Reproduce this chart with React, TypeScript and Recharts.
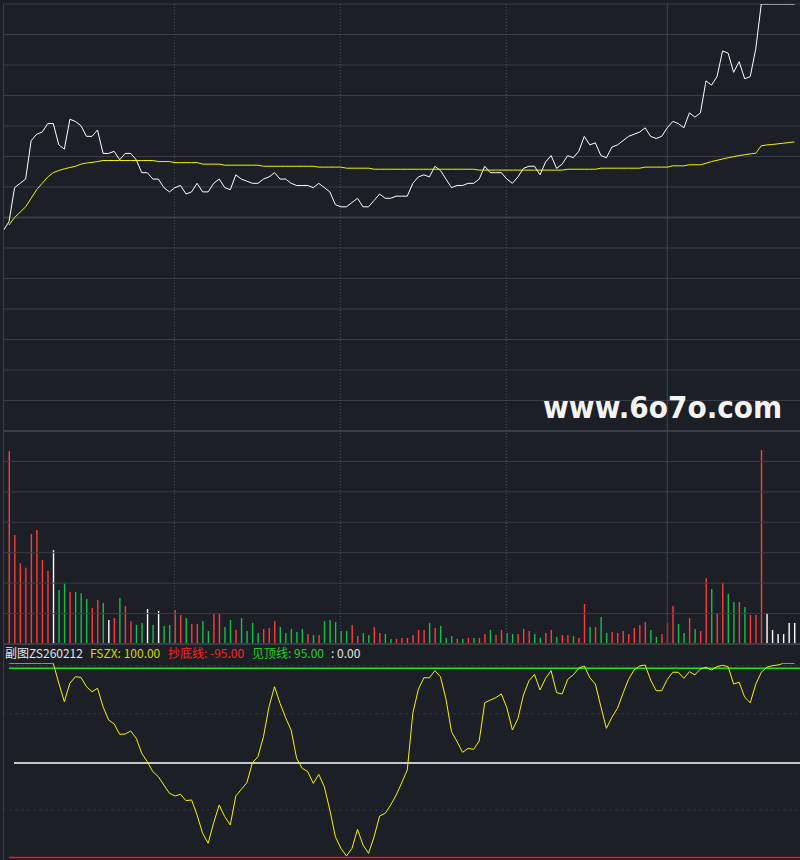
import { LineChart, Line, XAxis, YAxis, ReferenceLine, ComposedChart, Bar } from "recharts";

// intraday minute data, index 0 = 09:30 (chart is cut after the noon break)
const prevClose = 10.0;
const limitUp = 11.0;
const limitDown = 9.0;

const price = [
  9.94, 9.98, 10.14, 10.16, 10.18, 10.36, 10.39, 10.40, 10.44, 10.44, 10.34, 10.32,
  10.46, 10.45, 10.43, 10.38, 10.38, 10.41, 10.30, 10.30, 10.31, 10.27, 10.30, 10.30,
  10.27, 10.21, 10.21, 10.18, 10.18, 10.14, 10.12, 10.14, 10.15, 10.11, 10.12, 10.16,
  10.12, 10.12, 10.16, 10.18, 10.14, 10.13, 10.20, 10.18, 10.17, 10.16, 10.16, 10.18,
  10.19, 10.21, 10.18, 10.18, 10.16, 10.15, 10.15, 10.15, 10.14, 10.16, 10.14, 10.12,
  10.06, 10.05, 10.05, 10.07, 10.09, 10.05, 10.05, 10.08, 10.11, 10.09, 10.09, 10.10,
  10.10, 10.10, 10.16, 10.19, 10.20, 10.19, 10.24, 10.22, 10.18, 10.14, 10.15, 10.15,
  10.16, 10.16, 10.18, 10.24, 10.21, 10.21, 10.21, 10.18, 10.16, 10.19, 10.23, 10.24,
  10.24, 10.20, 10.26, 10.29, 10.23, 10.25, 10.29, 10.28, 10.31, 10.38, 10.34, 10.35,
  10.29, 10.28, 10.33, 10.34, 10.36, 10.38, 10.39, 10.40, 10.42, 10.38, 10.37, 10.38,
  10.42, 10.45, 10.44, 10.42, 10.49, 10.47, 10.49, 10.64, 10.62, 10.66, 10.78, 10.77,
  10.68, 10.73, 10.65, 10.66, 10.79, 11.00, 11.00, 11.00, 11.00, 11.00, 11.00, 11.00,
];

const avgPrice = [
  null, 9.965, 10.0, 10.025, 10.05, 10.09, 10.13, 10.16, 10.19, 10.21, 10.22, 10.228,
  10.234, 10.24, 10.25, 10.255, 10.258, 10.262, 10.267, 10.267, 10.267, 10.267, 10.267, 10.267,
  10.267, 10.267, 10.267, 10.267, 10.262, 10.262, 10.262, 10.257, 10.257, 10.257, 10.257, 10.257,
  10.25, 10.25, 10.25, 10.25, 10.245, 10.245, 10.245, 10.245, 10.245, 10.245, 10.245, 10.24,
  10.24, 10.24, 10.24, 10.24, 10.24, 10.24, 10.24, 10.24, 10.24, 10.236, 10.236, 10.236,
  10.236, 10.236, 10.231, 10.231, 10.231, 10.231, 10.231, 10.226, 10.226, 10.226, 10.226, 10.226,
  10.226, 10.226, 10.226, 10.226, 10.226, 10.226, 10.226, 10.226, 10.226, 10.226, 10.226, 10.226,
  10.226, 10.226, 10.222, 10.222, 10.222, 10.222, 10.222, 10.222, 10.222, 10.222, 10.222, 10.222,
  10.222, 10.222, 10.222, 10.222, 10.222, 10.222, 10.226, 10.226, 10.226, 10.226, 10.226, 10.226,
  10.231, 10.231, 10.231, 10.231, 10.231, 10.231, 10.231, 10.231, 10.236, 10.236, 10.236, 10.236,
  10.236, 10.242, 10.242, 10.242, 10.247, 10.247, 10.247, 10.254, 10.262, 10.268, 10.274, 10.28,
  10.285, 10.29, 10.294, 10.298, 10.301, 10.336, 10.34, 10.342, 10.345, 10.348, 10.351, 10.354,
];

const volume = [
  0, 9510, 5370, 3980, 3760, 5420, 5620, 4140, 3600, 4630, 2660, 2990,
  2560, 2560, 2500, 2220, 1770, 2170, 2020, 1180, 1280, 2270, 1870, 1130,
  940, 1040, 1730, 940, 1630, 890, 940, 1680, 1430, 1280, 990, 990,
  1130, 640, 1480, 1480, 840, 1180, 690, 1280, 640, 1040, 540, 740,
  790, 1130, 840, 540, 740, 590, 740, 490, 440, 440, 1130, 1180,
  1080, 640, 640, 940, 390, 540, 440, 840, 540, 490, 250, 250,
  300, 300, 440, 690, 690, 1040, 790, 890, 300, 390, 250, 250,
  300, 300, 300, 490, 690, 440, 690, 540, 490, 490, 740, 640,
  490, 300, 540, 690, 350, 440, 440, 390, 300, 1970, 840, 840,
  1330, 540, 590, 540, 640, 490, 790, 940, 1080, 690, 350, 490,
  1040, 1870, 990, 540, 1280, 740, 640, 3250, 2710, 1480, 3010, 2470,
  2070, 2070, 1820, 1430, 1430, 9560, 1530, 690, 490, 490, 1040, 1040,
];

// r = up, g = down, w = unchanged
const volDir = (
  "wrrrrrrrrwgg" + "rgggrrgwrgrr" + "ggwgwggrrgrr" + "ggrrggrggggr" +
  "rrgggggrgrgg" + "gggrrggrrggr" + "rrrrrgrgggrg" + "rgrrgrrggrrr" +
  "ggrrgrrgrrgr" + "ggrrrrrrrggr" + "rrggrgrrgrrg" + "grgrrrwwwwww"
).split("");

const fszx = [
  null, 100, 100, 100, 100, 100, 100, 100, 100, 100, 80.0, 61.4,
  80.0, 86.5, 85.9, 76.5, 71.5, 74.9, 56.4, 43.1, 39.1, 28.7, 29.0, 32.0,
  24.7, 9.6, 1.2, -8.8, -13.9, -22.2, -30.5, -33.2, -31.5, -37.9, -37.2, -52.3,
  -70.7, -80.7, -60.0, -42.3, -54.0, -62.3, -33.2, -26.5, -19.9, 0.2, 6.2, 26.3,
  56.4, 76.5, 59.8, 45.4, 33.0, 4.6, -5.4, -8.8, -20.5, -11.5, -23.9, -47.3,
  -74.1, -85.8, -93.5, -85.8, -66.7, -82.4, -90.8, -74.1, -53.3, -50.6, -42.3, -32.2,
  -19.9, -7.1, 49.8, 73.9, 85.5, 85.5, 92.6, 86.5, 63.8, 31.3, 21.3, 10.6,
  14.6, 13.6, 22.0, 60.4, 63.1, 65.5, 69.2, 55.4, 33.0, 44.4, 68.2, 82.5,
  88.9, 73.2, 84.9, 92.6, 70.5, 69.2, 83.9, 88.3, 95.0, 97.3, 85.5, 79.2,
  56.4, 34.7, 45.8, 54.8, 69.9, 83.9, 93.3, 97.3, 98.3, 83.2, 72.5, 72.5,
  83.9, 91.0, 91.0, 84.9, 91.6, 88.3, 94.3, 96.0, 93.3, 96.6, 98.0, 96.6,
  79.2, 80.9, 65.9, 60.4, 78.9, 91.0, 96.0, 97.6, 98.3, 100, 100, 100,
];

const bottomLine = -95;
const topLine = 95;
const halfHourMarks = [30.9, 60.9, 90.9];
const noonMark = 120;

const BG = "#1c1f26";
const GRID = "#383d48";
const DIR_COLOR: Record<string, string> = { r: "#ff3b3b", g: "#11c04a", w: "#ffffff" };

const priceGrid = Array.from({ length: 15 }, (_, k) => limitDown + (k * (limitUp - limitDown)) / 14);
const volGrid = [1500, 3000, 4500, 6000, 7500, 9000];
const indGrid = [97.3, 49.2, -47.3];

const priceRows = price.map((p, i) => ({ i, price: p, avg: avgPrice[i] }));
const volRows = volume.map((v, i) => ({ i, vol: v > 0 ? v : null, dir: volDir[i] }));
const indRows = fszx.map((v, i) => ({ i, fszx: v }));

const layer: React.CSSProperties = { position: "absolute", left: 0, top: 0 };

function VolBar(props: any) {
  const { x, y, width, height, payload } = props;
  if (!height || height <= 0) return null;
  const cx = x + width / 2;
  return <rect x={cx - 0.7} y={y} width={1.4} height={height} fill={DIR_COLOR[payload.dir]} />;
}

function dividers(keyPrefix: string) {
  return [
    ...halfHourMarks.map((m) => (
      <ReferenceLine key={keyPrefix + m} x={m} stroke="#4a505d" strokeDasharray="1 2" />
    )),
    <ReferenceLine key={keyPrefix + "noon"} x={noonMark} stroke="#3f4450" />,
  ];
}

export default function App() {
  return (
    <div style={{ position: "absolute", left: 0, top: 0, width: 800, height: 860, overflow: "hidden", background: BG }}>
      {/* price panel */}
      <div style={layer}>
        <LineChart width={800} height={440} data={priceRows} margin={{ top: 4, right: 0, bottom: 9, left: 3.5 }}>
          <XAxis type="number" dataKey="i" domain={[0, 144]} hide allowDataOverflow />
          <YAxis type="number" domain={[limitDown, limitUp]} hide allowDataOverflow />
          {priceGrid.map((v, k) => (
            <ReferenceLine key={k} y={v} stroke={GRID} strokeWidth={k === 0 || k === 7 ? 2 : 1} />
          ))}
          {dividers("p")}
          <Line type="linear" dataKey="price" stroke="#ffffff" strokeWidth={1} dot={false} isAnimationActive={false} />
          <Line type="linear" dataKey="avg" stroke="#f5f500" strokeWidth={1} dot={false} isAnimationActive={false} />
        </LineChart>
      </div>

      {/* volume panel */}
      <div style={layer}>
        <ComposedChart width={800} height={650} data={volRows} margin={{ top: 431, right: 0, bottom: 6, left: 3.5 }}>
          <XAxis type="number" dataKey="i" domain={[0, 144]} hide allowDataOverflow />
          <YAxis type="number" domain={[0, 10500]} hide allowDataOverflow />
          {volGrid.map((v) => (
            <ReferenceLine key={v} y={v} stroke={GRID} />
          ))}
          <ReferenceLine y={0} stroke={GRID} strokeWidth={2} />
          {dividers("v")}
          <Bar dataKey="vol" barSize={2} shape={<VolBar />} isAnimationActive={false} />
        </ComposedChart>
      </div>

      {/* indicator panel */}
      <div style={layer}>
        <LineChart width={800} height={866} data={indRows} margin={{ top: 663.3, right: 0, bottom: 3.5, left: 3.5 }}>
          <XAxis type="number" dataKey="i" domain={[0, 144]} hide allowDataOverflow />
          <YAxis type="number" domain={[-100, 100]} hide allowDataOverflow />
          {indGrid.map((v) => (
            <ReferenceLine key={v} y={v} stroke={GRID} strokeDasharray="2 4" />
          ))}
          <ReferenceLine segment={[{ x: 1.9, y: 0 }, { x: 144, y: 0 }]} stroke="#ffffff" strokeWidth={1.5} />
          <ReferenceLine segment={[{ x: 1, y: topLine }, { x: 144, y: topLine }]} stroke="#19e619" strokeWidth={1.5} />
          <ReferenceLine segment={[{ x: 1, y: bottomLine }, { x: 144, y: bottomLine }]} stroke="#e61e1e" strokeWidth={1.5} />
          <Line type="linear" dataKey="fszx" stroke="#f5f500" strokeWidth={1} dot={false} isAnimationActive={false} />
        </LineChart>
      </div>

      {/* left frame line */}
      <div style={{ position: "absolute", left: 3, top: 4, width: 1, height: 856, background: GRID }} />

      {/* indicator header */}
      <div style={{ position: "absolute", left: 0, top: 647, height: 14, width: 800, fontFamily: '"Noto Sans CJK SC", sans-serif', fontSize: 12, lineHeight: "12px", whiteSpace: "nowrap" }}>
        <span style={{ position: "absolute", left: 5, color: "#e6e6e6" }}>副图ZS260212</span>
        <span style={{ position: "absolute", left: 90, color: "#d8d800" }}>FSZX: 100.00</span>
        <span style={{ position: "absolute", left: 168, color: "#ff2222" }}>抄底线: -95.00</span>
        <span style={{ position: "absolute", left: 252, color: "#22d022" }}>见顶线: 95.00</span>
        <span style={{ position: "absolute", left: 331, color: "#e6e6e6" }}>: 0.00</span>
      </div>

      {/* watermark */}
      <div style={{ position: "absolute", left: 543, top: 390, fontFamily: '"DejaVu Sans", sans-serif', fontWeight: 700, fontSize: 24, lineHeight: "28px", color: "#f4f4f4", transform: "scale(1.165, 1.25)", transformOrigin: "left top", whiteSpace: "nowrap" }}>
        www.6o7o.com
      </div>
    </div>
  );
}
